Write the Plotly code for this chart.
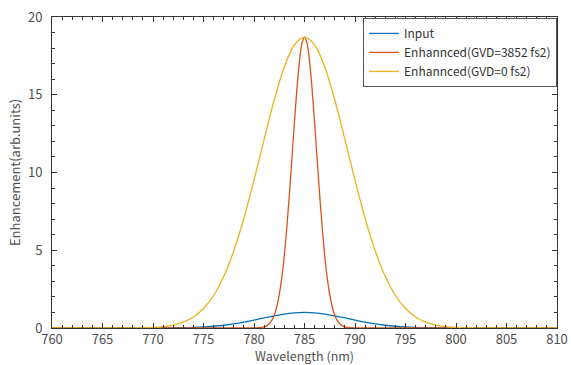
import plotly.graph_objects as go

# Wavelength grid (nm) for the broad curves
wl_broad = [760, 761, 762, 763, 764, 765, 766, 767, 768, 769,
            770, 771, 772, 773, 774, 775, 776, 777, 778, 779,
            780, 781, 782, 783, 784, 785, 786, 787, 788, 789,
            790, 791, 792, 793, 794, 795, 796, 797, 798, 799,
            800, 801, 802, 803, 804, 805, 806, 807, 808, 809, 810]

input_vals = [0, 0, 0, 0, 0, 0, 0, 0, 0, 0,
              0.001, 0.002, 0.010, 0.020, 0.038, 0.067, 0.112, 0.177, 0.266, 0.378,
              0.509, 0.649, 0.784, 0.898, 0.973, 1.0, 0.973, 0.898, 0.784, 0.649,
              0.509, 0.378, 0.266, 0.177, 0.112, 0.067, 0.038, 0.020, 0.010, 0.002,
              0.001, 0, 0, 0, 0, 0, 0, 0, 0, 0, 0]

gvd0_vals = [0, 0, 0, 0, 0, 0, 0, 0.003, 0.008, 0.018,
             0.043, 0.093, 0.19, 0.38, 0.71, 1.25, 2.09, 3.31, 4.97, 7.06,
             9.51, 12.13, 14.66, 16.78, 18.20, 18.70, 18.20, 16.78, 14.66, 12.13,
             9.51, 7.06, 4.97, 3.31, 2.09, 1.25, 0.71, 0.38, 0.19, 0.093,
             0.043, 0.018, 0.008, 0.003, 0, 0, 0, 0, 0, 0, 0]

# Finer grid around the narrow peak
wl_narrow = [760, 778, 779, 780, 780.5, 781, 781.25, 781.5, 781.75,
             782, 782.25, 782.5, 782.75, 783, 783.25, 783.5, 783.75, 784, 784.25,
             784.5, 784.75, 785, 785.25, 785.5, 785.75, 786, 786.25, 786.5, 786.75,
             787, 787.25, 787.5, 787.75, 788, 788.25, 788.5, 788.75, 789, 789.5,
             790, 791, 792, 810]

gvd3852_vals = [0, 0, 0, 0.003, 0.017, 0.072, 0.14, 0.27, 0.48,
                0.82, 1.35, 2.14, 3.22, 4.66, 6.46, 8.56, 10.87, 13.22, 15.38,
                17.15, 18.30, 18.70, 18.30, 17.15, 15.38, 13.22, 10.87, 8.56, 6.46,
                4.66, 3.22, 2.14, 1.35, 0.82, 0.48, 0.27, 0.14, 0.072, 0.017,
                0.003, 0, 0, 0]

series_names = ["Input", "Enhannced(GVD=3852 fs2)", "Enhannced(GVD=0 fs2)"]
series_colors = ["#0072BD", "#D95319", "#EDB120"]

x_ticks = [760, 765, 770, 775, 780, 785, 790, 795, 800, 805, 810]
y_ticks = [0, 5, 10, 15, 20]

fig = go.Figure()
fig.add_trace(go.Scatter(x=wl_broad, y=input_vals, mode="lines", name=series_names[0],
                         line=dict(color=series_colors[0], width=1.3, shape="spline")))
fig.add_trace(go.Scatter(x=wl_narrow, y=gvd3852_vals, mode="lines", name=series_names[1],
                         line=dict(color=series_colors[1], width=1.3, shape="spline")))
fig.add_trace(go.Scatter(x=wl_broad, y=gvd0_vals, mode="lines", name=series_names[2],
                         line=dict(color=series_colors[2], width=1.3, shape="spline")))

font_family = "Noto Sans CJK JP, Noto Sans, sans-serif"
text_color = "#505050"
axis_common = dict(
    showline=True, linecolor="#333333", linewidth=1, mirror="ticks",
    ticks="inside", ticklen=5, tickwidth=1, tickcolor="#333333",
    showgrid=False, zeroline=False, automargin=False,
    tickfont=dict(size=13, color=text_color, family=font_family),
    minor=dict(ticks="inside", ticklen=3, tickcolor="#333333", dtick=1, showgrid=False),
)

fig.update_layout(
    width=571, height=365,
    margin=dict(l=52, r=14, t=17, b=37),
    paper_bgcolor="white", plot_bgcolor="white",
    font=dict(family=font_family, color=text_color),
    xaxis=dict(range=[760, 810], tickvals=x_ticks, ticktext=[str(v) for v in x_ticks],
               ticklabelstandoff=-1, **axis_common),
    yaxis=dict(range=[0, 20], tickvals=y_ticks, ticktext=[str(v) for v in y_ticks],
               ticklabelstandoff=6,
               title=dict(text="Enhancement(arb.units)", font=dict(size=13, color=text_color), standoff=4),
               **axis_common),
    legend=dict(x=1, y=0.997, xanchor="right", yanchor="top",
                bgcolor="white", bordercolor="#555555", borderwidth=1,
                font=dict(size=12, color="#333333", family=font_family),
                itemwidth=30, tracegroupgap=0),
    showlegend=True,
)

# x-axis title placed just under the tick labels
fig.add_annotation(text="Wavelength (nm)", xref="paper", yref="paper",
                   x=0.5, y=-0.087, xanchor="center", yanchor="middle",
                   showarrow=False, font=dict(size=12.5, color=text_color, family=font_family))

fig.write_html("out.html")
